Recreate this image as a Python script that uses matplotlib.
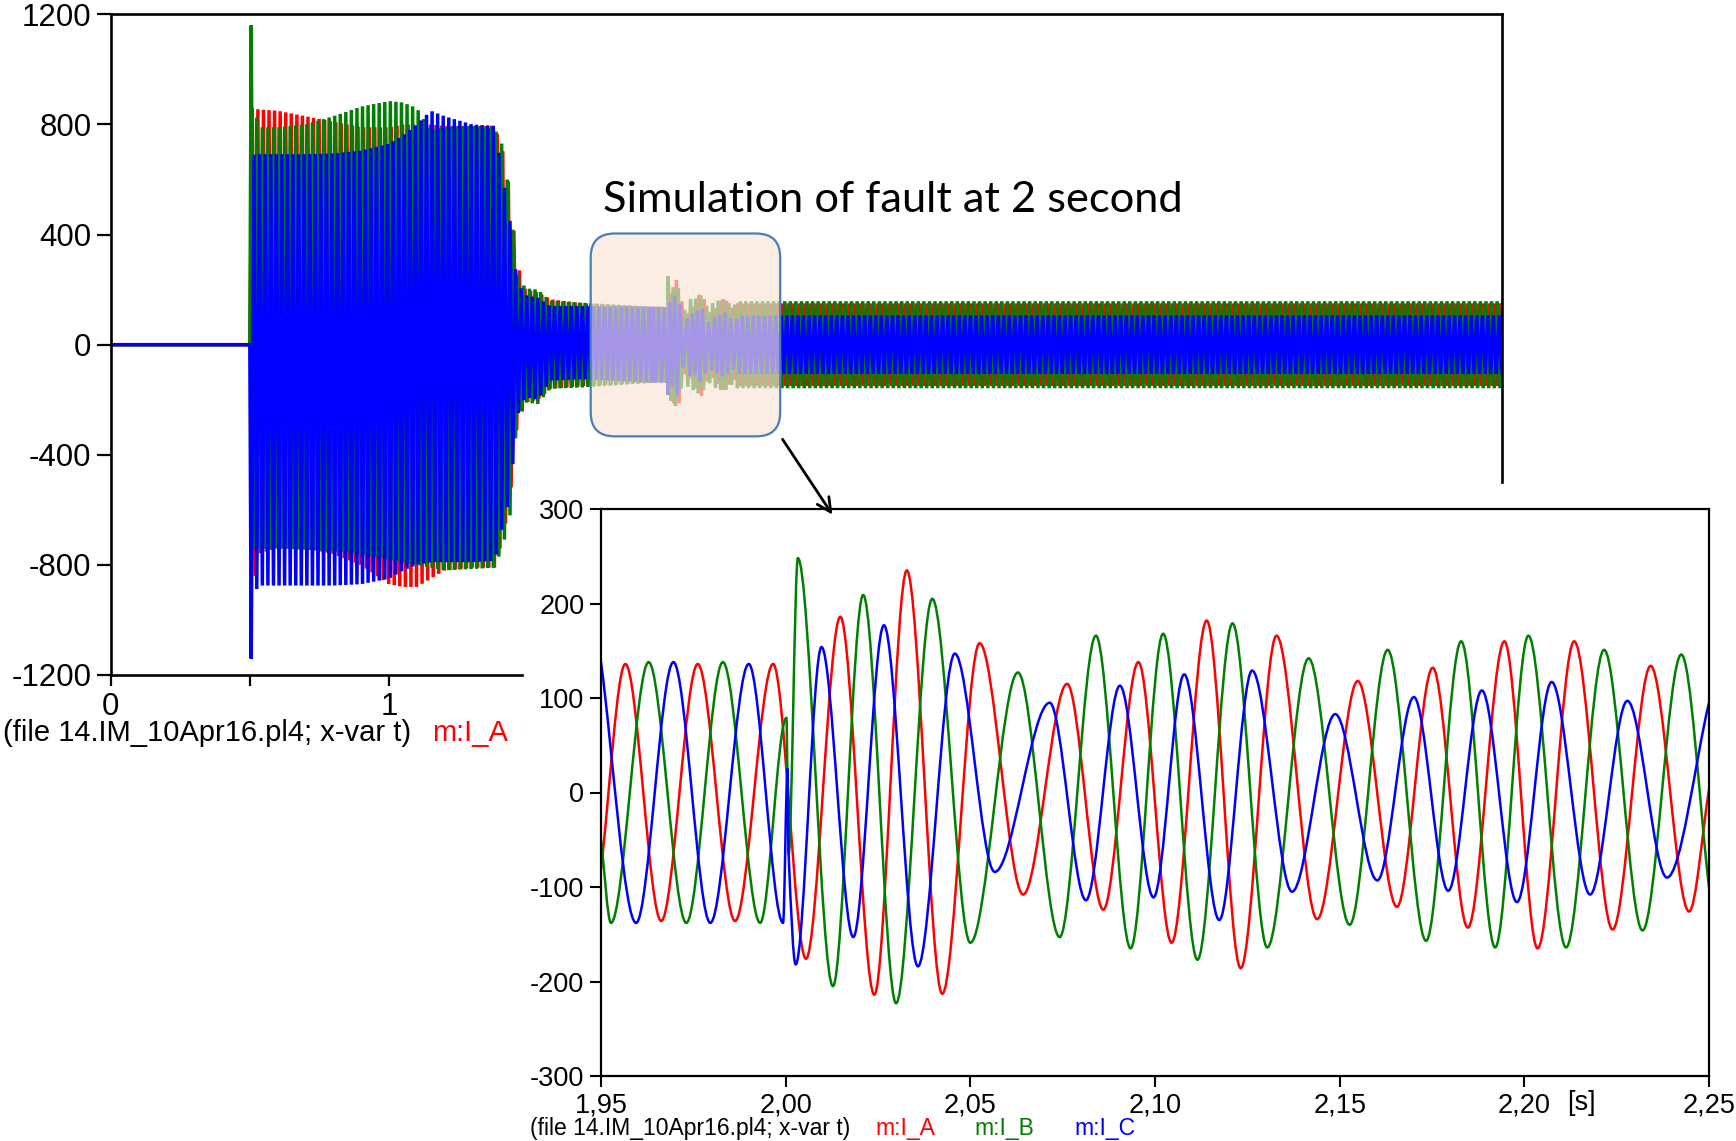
import numpy as np
import matplotlib
matplotlib.use('Agg')
import matplotlib.pyplot as plt
from matplotlib.path import Path
from matplotlib.patches import PathPatch, FancyBboxPatch, FancyArrowPatch
from matplotlib.transforms import IdentityTransform, blended_transform_factory

plt.rcParams['font.family'] = ['Liberation Sans', 'DejaVu Sans']
plt.rcParams['axes.unicode_minus'] = False

W, H = 1736, 1141

# ---- overview plot (0..5 s): envelope of the three phase currents
HALF_CYCLE = 0.01  # 50 Hz
env_t = [0.50, 0.51, 0.52, 0.53, 0.60, 0.70, 0.80, 0.90, 1.00, 1.05, 1.10, 1.15,
         1.20, 1.30, 1.38, 1.41, 1.435, 1.46, 1.49, 1.535, 1.58, 1.70, 1.95]
A_hi = [860, 860, 860, 855, 850, 830, 810, 790, 790, 800, 800, 800,
        795, 795, 795, 700, 560, 300, 200, 190, 165, 150, 136]
A_lo = [-840, -840, -840, -760, -740, -740, -760, -800, -870, -880, -880, -850,
        -820, -810, -810, -700, -560, -300, -210, -200, -160, -150, -136]
B_hi = [1160, 1160, 860, 790, 790, 800, 830, 865, 885, 880, 860, 780,
        790, 795, 785, 720, 520, 265, 205, 200, 160, 152, 138]
B_lo = [-740, -740, -740, -740, -740, -745, -750, -760, -780, -790, -800, -810,
        -820, -815, -810, -730, -620, -270, -210, -215, -160, -155, -138]
C_hi = [690, 690, 690, 692, 692, 692, 695, 705, 730, 760, 800, 850,
        830, 800, 795, 600, 450, 230, 180, 170, 140, 140, 138]
C_lo = [-1140, -1140, -900, -875, -875, -875, -875, -870, -850, -820, -800, -790,
        -790, -790, -785, -650, -550, -260, -190, -200, -130, -125, -138]
start_first = {'A': (0.509, 1), 'B': (0.505, 1), 'C': (0.505, -1)}
steady_first = {'A': (2.2546, 1), 'B': (2.2525, -1), 'C': (2.2595, -1)}
steady_amp = {'A': 150, 'B': 158, 'C': 106}

# ---- zoomed plot (1.95..2.25 s): extrema of each phase
A_t = [1.9500, 1.9566, 1.9663, 1.9762, 1.9863, 1.9966, 2.0055, 2.0148, 2.0240, 2.0328,
       2.0424, 2.0525, 2.0643, 2.0762, 2.0860, 2.0955, 2.1045, 2.1140, 2.1232, 2.1329,
       2.1439, 2.1549, 2.1655, 2.1752, 2.1847, 2.1946, 2.2036, 2.2135, 2.2239, 2.2342,
       2.2446, 2.2500]
A_v = [-81, 136, -136, 136, -136, 136, -176, 186, -214, 235,
       -213, 158, -108, 115, -124, 138, -159, 182, -186, 166,
       -134, 118, -121, 132, -143, 160, -165, 160, -145, 134,
       -126, 3]
B_t = [1.9500, 1.9527, 1.9629, 1.9731, 1.9830, 1.9931, 2.0002, 2.0008, 2.0033,
       2.0128, 2.0210, 2.0299, 2.0397, 2.0500, 2.0629, 2.0742, 2.0840, 2.0934, 2.1022,
       2.1115, 2.1210, 2.1304, 2.1416, 2.1527, 2.1630, 2.1734, 2.1829, 2.1921, 2.2011,
       2.2113, 2.2216, 2.2320, 2.2425, 2.2500]
B_v = [-50, -138, 138, -138, 138, -138, 79, -65, 248,
       -205, 209, -223, 205, -159, 127, -153, 166, -165, 168,
       -177, 179, -164, 142, -140, 151, -157, 160, -164, 166,
       -164, 151, -146, 146, -100]
C_t = [1.9500, 1.9595, 1.9696, 1.9796, 1.9900, 1.9993, 2.0005, 2.0008, 2.0027, 2.0097,
       2.0183, 2.0266, 2.0358, 2.0458, 2.0566, 2.0715, 2.0813, 2.0905, 2.0996, 2.1079,
       2.1174, 2.1263, 2.1371, 2.1488, 2.1602, 2.1701, 2.1794, 2.1885, 2.1980, 2.2074,
       2.2178, 2.2279, 2.2386, 2.2500]
C_v = [138, -138, 138, -138, 136, -138, 25, -65, -182, 154,
       -153, 177, -184, 147, -84, 95, -114, 113, -111, 125,
       -135, 129, -105, 83, -93, 101, -104, 108, -116, 117,
       -108, 97, -90, 95]

phases = ['A', 'B', 'C']
colors = {'A': '#ff0000', 'B': '#008000', 'C': '#0000ff'}
env = {'A': (A_hi, A_lo), 'B': (B_hi, B_lo), 'C': (C_hi, C_lo)}
detail = {'A': (A_t, A_v), 'B': (B_t, B_v), 'C': (C_t, C_v)}

top_yticks = [-1200, -800, -400, 0, 400, 800, 1200]
bot_xticks = [1.95, 2.00, 2.05, 2.10, 2.15, 2.20, 2.25]
bot_yticks = [-300, -200, -100, 0, 100, 200, 300]


def fx(x):
    return x / W


def fy(y):
    return 1 - y / H


def zigzag(t_first, sign, t_stop, knots, hi, lo):
    ts = np.arange(t_first, t_stop, HALF_CYCLE)
    s = sign * (-1.0) ** np.arange(len(ts))
    v = np.where(s > 0, np.interp(ts, knots, hi), np.interp(ts, knots, lo))
    return ts, v


def smooth_path(ts, vs):
    ts = np.asarray(ts, float)
    vs = np.asarray(vs, float)
    n = len(ts)
    m = np.zeros(n)
    for i in range(n):
        if i == 0:
            m[i] = (vs[1] - vs[0]) / (ts[1] - ts[0])
        elif i == n - 1:
            m[i] = (vs[-1] - vs[-2]) / (ts[-1] - ts[-2])
        elif (vs[i] - vs[i - 1]) * (vs[i + 1] - vs[i]) <= 0:
            m[i] = 0.0
        else:
            m[i] = (vs[i + 1] - vs[i - 1]) / (ts[i + 1] - ts[i - 1])
    verts = [(ts[0], vs[0])]
    codes = [Path.MOVETO]
    for i in range(n - 1):
        dt = ts[i + 1] - ts[i]
        verts += [(ts[i] + dt / 3, vs[i] + m[i] * dt / 3),
                  (ts[i + 1] - dt / 3, vs[i + 1] - m[i + 1] * dt / 3),
                  (ts[i + 1], vs[i + 1])]
        codes += [Path.CURVE4] * 3
    return Path(verts, codes)


fig = plt.figure(figsize=(W / 100, H / 100), dpi=100)

# ---------------- overview axes
ax1 = fig.add_axes([fx(110.7), fy(675), fx(1502 - 110.7), (675 - 14.4) / H])
for p in phases:
    hi, lo = env[p]
    t0, s0 = start_first[p]
    t1, v1 = zigzag(t0, s0, 1.949, env_t, hi, lo)
    ts0, ss0 = steady_first[p]
    amp = steady_amp[p]
    t2, v2 = zigzag(ts0, ss0, 5.0 + HALF_CYCLE, [2.25, 5.0], [amp, amp], [-amp, -amp])
    dt_, dv_ = detail[p]
    t_all = np.concatenate([[0.0, 0.5], t1, dt_, t2])
    v_all = np.concatenate([[0.0, 0.0], v1, dv_, v2])
    ax1.plot(t_all, v_all, color=colors[p], lw=2.5, solid_joinstyle='miter')

ax1.set_xlim(0, 5)
ax1.set_ylim(-1200, 1200)
ax1.set_yticks(top_yticks)
ax1.set_yticklabels([str(v) for v in top_yticks])
ax1.set_xticks([0, 1])
ax1.set_xticklabels(['0', '1'])
ax1.set_xticks([0.5], minor=True)
ax1.tick_params(axis='y', direction='out', length=10, width=1.6, pad=4, labelsize=22.5)
ax1.tick_params(axis='x', which='both', direction='out', length=8, width=1.6, pad=4, labelsize=22.5)
for s in ax1.spines.values():
    s.set_linewidth(1.9)
ax1.spines['right'].set_bounds(-499, 1200)
ax1.spines['bottom'].set_bounds(0, 1.478)

fig.text(fx(3), fy(733), '(file 14.IM_10Apr16.pl4; x-var t)', fontsize=21, va='center', ha='left')
fig.text(fx(432), fy(733), 'm:I_A', fontsize=21, va='center', ha='left', color='#ff0000')

# ---------------- zoomed axes
ax2 = fig.add_axes([fx(601), fy(1076), fx(1709 - 601), (1076 - 509) / H])
ax2.set_facecolor('white')
for p in phases:
    dt_, dv_ = detail[p]
    ax2.add_patch(PathPatch(smooth_path(dt_, dv_), fill=False, edgecolor=colors[p],
                            lw=1.8, joinstyle='round'))
ax2.set_xlim(1.95, 2.25)
ax2.set_ylim(-300, 300)
ax2.set_xticks(bot_xticks)
ax2.set_xticklabels([f'{v:.2f}'.replace('.', ',') for v in bot_xticks])
ax2.set_yticks(bot_yticks)
ax2.set_yticklabels([str(v) for v in bot_yticks])
ax2.tick_params(direction='out', length=8, width=1.5, pad=4, labelsize=19.5)
for s in ax2.spines.values():
    s.set_linewidth(1.6)
ax2.text(2.2155, -27 / 567, '[s]', fontsize=19.5, ha='center', va='center',
         transform=blended_transform_factory(ax2.transData, ax2.transAxes))

fig.text(fx(530), fy(1129), '(file 14.IM_10Apr16.pl4; x-var t)', fontsize=16.5, va='center')
fig.text(fx(875), fy(1129), 'm:I_A', fontsize=16.5, va='center', color='#ff0000')
fig.text(fx(974), fy(1129), 'm:I_B', fontsize=16.5, va='center', color='#008000')
fig.text(fx(1074), fy(1129), 'm:I_C', fontsize=16.5, va='center', color='#0000ff')

# ---------------- highlight box around the fault, arrow and title
x0, y0 = ax1.transData.transform((1.725, -333))
x1, y1 = ax1.transData.transform((2.406, 404))
box = FancyBboxPatch((x0, y0), x1 - x0, y1 - y0, boxstyle='round,pad=0,rounding_size=24',
                     transform=IdentityTransform(), facecolor=(251 / 255, 229 / 255, 214 / 255, 0.66),
                     edgecolor='#4a7ebb', lw=1.6, zorder=2)
fig.add_artist(box)

arrow = FancyArrowPatch((fx(781), fy(437)), (fx(834), fy(517)), transform=fig.transFigure,
                        arrowstyle='->,head_length=10,head_width=5', lw=2.0, color='black',
                        mutation_scale=1, zorder=5)
fig.add_artist(arrow)

title = fig.text(fx(603), fy(212.5), 'Simulation of fault at 2 second', fontsize=31,
                 family=['Lato', 'DejaVu Sans'], va='baseline', ha='left')
renderer = fig.canvas.get_renderer()
bb = title.get_window_extent(renderer)
title.set_fontsize(31 * 578 / bb.width)

fig.savefig('out.png', dpi=100)
